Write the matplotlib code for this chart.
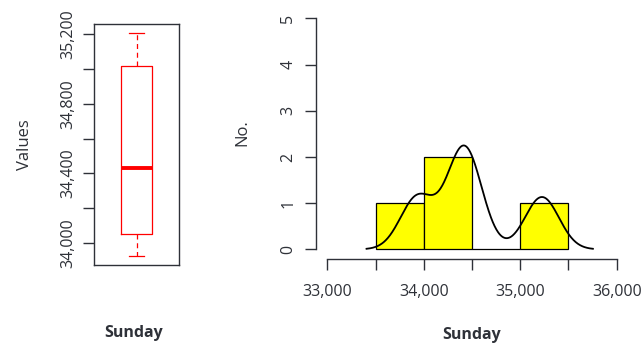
import matplotlib.pyplot as plt
import numpy as np

plt.rcParams["font.family"] = ["Open Sans", "DejaVu Sans"]

# Sunday totals (histogram + density)
sunday = [33935, 34385, 34455, 35225]
hist_bins = [33500, 34000, 34500, 35000, 35500]
kde_bw = 176

# boxplot five-number summary
box_stats = dict(whislo=33925, q1=34053, med=34433, q3=35015, whishi=35208)

box_ticks = [34000, 34200, 34400, 34600, 34800, 35000, 35200]
box_ticklabels = ["34,000", "", "34,400", "", "34,800", "", "35,200"]
hist_xticks = [33000, 33500, 34000, 34500, 35000, 35500, 36000]
hist_xticklabels = ["33,000", "", "34,000", "", "35,000", "", "36,000"]
hist_yticks = [0, 1, 2, 3, 4, 5]

ink = "#2e3138"
W, H = 641, 347

fig = plt.figure(figsize=(W / 100, H / 100), dpi=100)

# ---- boxplot ----
ax1 = fig.add_axes([94 / W, 1 - 265 / H, 85 / W, 241 / H])
stats = dict(box_stats, label="")
ax1.bxp(
    [stats],
    positions=[1],
    widths=0.37,
    showfliers=False,
    boxprops=dict(color="red", linewidth=0.9),
    medianprops=dict(color="red", linewidth=2.8, solid_capstyle="butt"),
    whiskerprops=dict(color="red", linewidth=0.9, linestyle=(0, (4, 3))),
    capprops=dict(color="red", linewidth=0.9),
)
ax1.set_xlim(0.5, 1.5)
ax1.set_ylim(33874, 35259)
ax1.set_xticks([])
ax1.set_yticks(box_ticks)
ax1.set_yticklabels(box_ticklabels, rotation=90, va="center")
ax1.tick_params(axis="y", direction="out", length=8, width=1, colors=ink,
                labelsize=11.5, pad=5)
for spine in ax1.spines.values():
    spine.set_color(ink)
    spine.set_linewidth(1.0)
ax1.set_ylabel("Values", fontsize=12, color=ink)
ax1.yaxis.set_label_coords(-0.81, 0.5)
ax1.yaxis.label.set_va("center")
ax1.set_xlabel("Sunday", fontsize=11.5, fontweight="bold", color=ink)
ax1.xaxis.set_label_coords(0.47, -0.282)
ax1.xaxis.label.set_va("center")

# ---- histogram with density ----
ax2 = fig.add_axes([315.7 / W, 1 - 258.6 / H, 312.6 / W, 249.5 / H])
ax2.hist(sunday, bins=hist_bins, color="yellow", edgecolor="black", linewidth=0.9)

xs = np.linspace(min(sunday) - 3 * kde_bw, max(sunday) + 3 * kde_bw, 512)
dens = np.zeros_like(xs)
for v in sunday:
    dens += np.exp(-0.5 * ((xs - v) / kde_bw) ** 2)
dens /= len(sunday) * kde_bw * np.sqrt(2 * np.pi)
binw = hist_bins[1] - hist_bins[0]
ax2.plot(xs, dens * len(sunday) * binw, color="black", linewidth=1.3)

ax2.spines["top"].set_visible(False)
ax2.spines["right"].set_visible(False)
ax2.spines["left"].set_bounds(0, 5)
ax2.spines["bottom"].set_bounds(33000, 36000)
for s in ("left", "bottom"):
    ax2.spines[s].set_color(ink)
    ax2.spines[s].set_linewidth(1.0)

ax2.set_xlim(32880, 36120)
ax2.set_ylim(-0.2, 5.2)
ax2.set_xticks(hist_xticks)
ax2.set_xticklabels(hist_xticklabels)
ax2.set_yticks(hist_yticks)
ax2.set_yticklabels([str(t) for t in hist_yticks], rotation=90, va="center")
ax2.tick_params(direction="out", length=8, width=1, colors=ink, labelsize=11.5)
ax2.tick_params(axis="x", pad=10)
ax2.tick_params(axis="y", pad=6)
ax2.set_ylabel("No.", fontsize=12, color=ink)
ax2.yaxis.set_label_coords(-0.233, 0.503)
ax2.yaxis.label.set_va("center")
ax2.set_xlabel("Sunday", fontsize=11.5, fontweight="bold", color=ink)
ax2.xaxis.set_label_coords(0.5, -0.306)
ax2.xaxis.label.set_va("center")

fig.savefig("out.png", dpi=100)
